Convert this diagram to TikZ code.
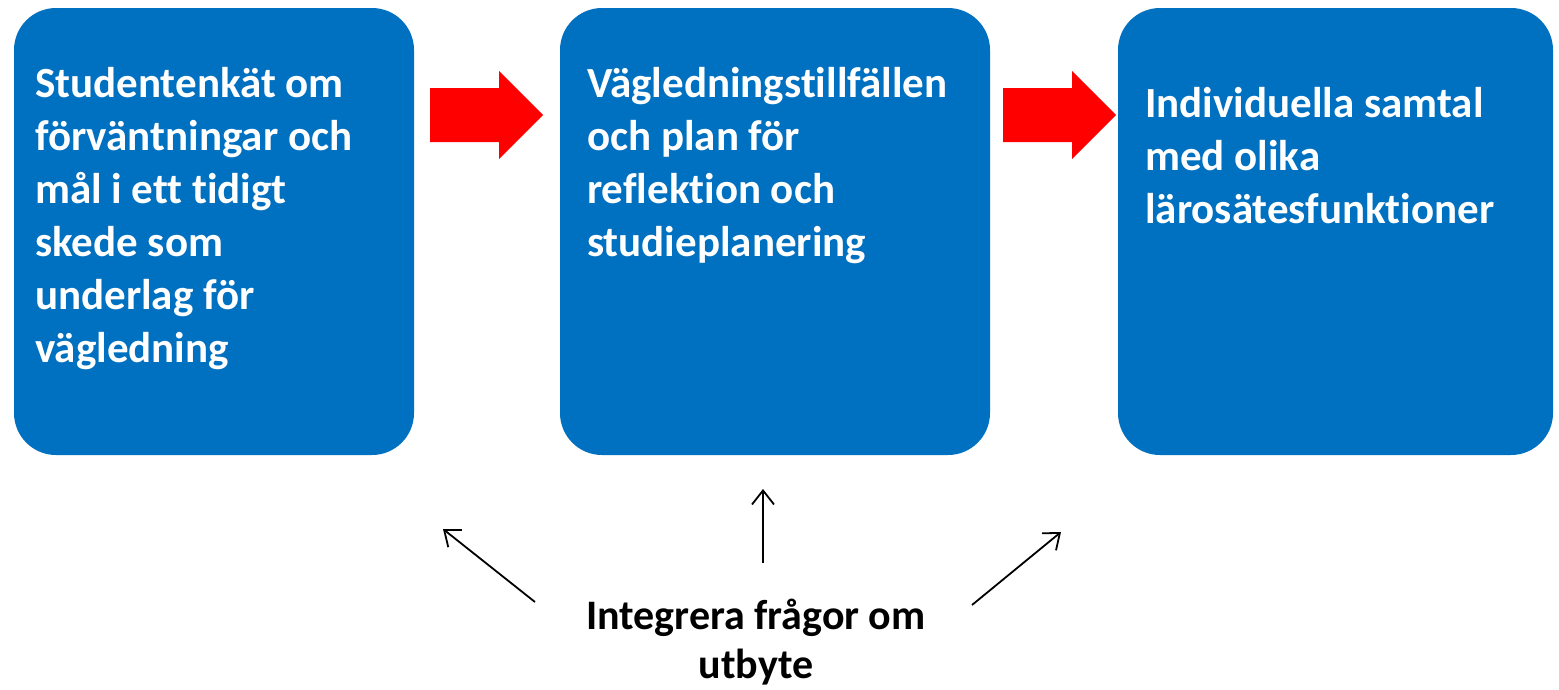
\documentclass[tikz,border=0pt]{standalone}
\usepackage{fontspec}
\setmainfont{Carlito}[Ligatures=NoCommon]
\usetikzlibrary{arrows.meta}
\definecolor{boxblue}{HTML}{0070C0}
\definecolor{flowred}{HTML}{FF0000}

\begin{document}
\begin{tikzpicture}[x=1pt,y=-1pt,
    stepbox/.style={fill=boxblue,rounded corners=42pt},
    boxtext/.style={anchor=north west,align=left,inner sep=0pt,text=white,
      font=\fontsize{43}{53}\selectfont\bfseries},
    flow/.style={fill=flowred},
    hint/.style={draw=black,line width=1.8pt,-{Straight Barb[length=14pt,width=22pt,line width=1.8pt]}}]
      \useasboundingbox (0,0) rectangle (1559,689);
      % boxes
      \path[stepbox] (14,8) rectangle (414,455);
      \path[stepbox] (560,8) rectangle (990,455);
      \path[stepbox] (1118,8) rectangle (1553,455);
      \node[boxtext] (enkat) at (35,67)
        {Studentenkät om\\förväntningar och\\mål i ett tidigt\\skede som\\underlag för\\vägledning};
      \node[boxtext] (tillfallen) at (587,67)
        {Vägledningstillfällen\\och plan för\\reflektion och\\studieplanering};
      \node[boxtext] (samtal) at (1145,87)
        {Individuella samtal\\med olika\\lärosätesfunktioner};
      % red arrows
      \foreach \x in {430,1003} {
        \fill[flow] (\x,88) -- (\x+69,88) -- (\x+69,71) -- (\x+113,115)
          -- (\x+69,159) -- (\x+69,142) -- (\x,142) -- cycle;
      }
      % bottom
      \node[anchor=north,align=center,inner sep=0pt,
        font=\fontsize{42}{49}\selectfont\bfseries] (utbyte) at (756,599)
        {Integrera frågor om\\utbyte};
      \coordinate (L0) at (535,602);
      \coordinate (L1) at (443,529);
      \coordinate (M0) at (763,563);
      \coordinate (M1) at (763,489);
      \coordinate (R0) at (972,605);
      \coordinate (R1) at (1061,532);
      \draw[hint] (L0) -- (L1);
      \draw[hint] (M0) -- (M1);
      \draw[hint] (R0) -- (R1);
\end{tikzpicture}
\end{document}
